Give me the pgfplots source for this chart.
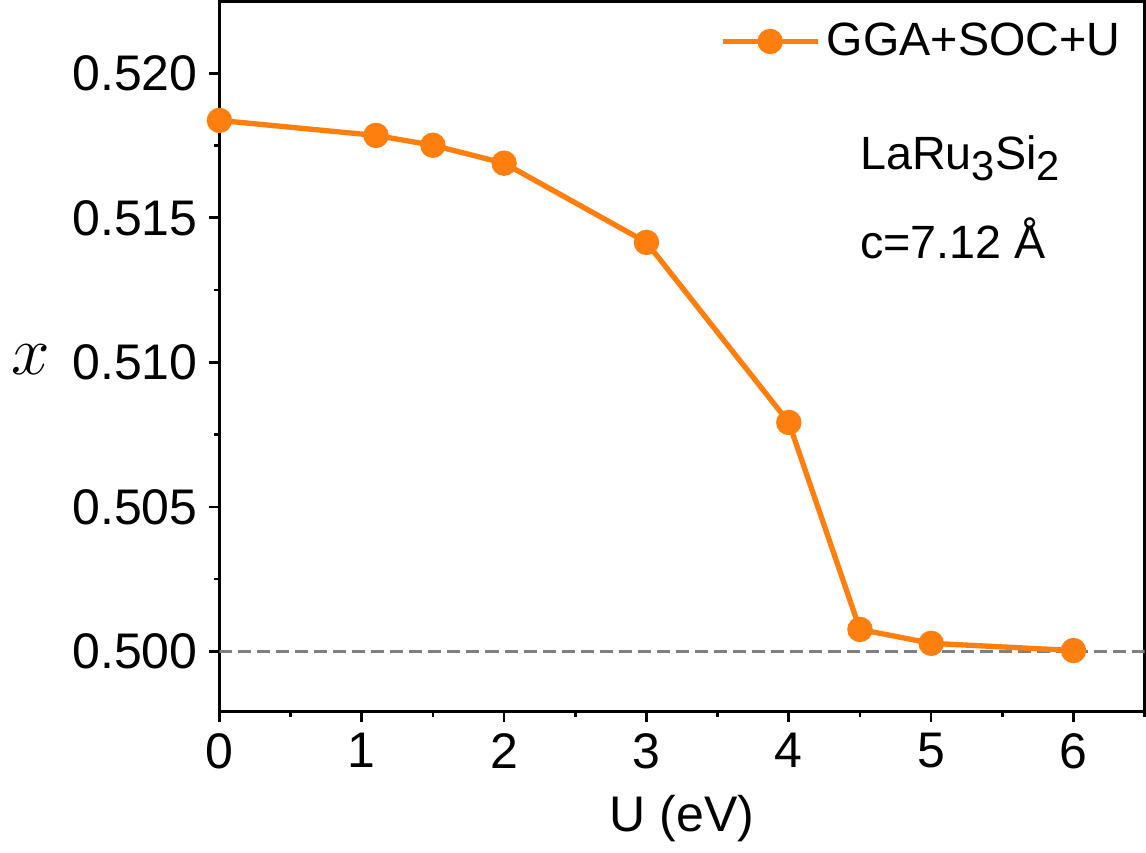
\documentclass[border=0pt]{standalone}
\usepackage{pgfplots}
\pgfplotsset{compat=1.18}
\usepackage{fontspec}
\setmainfont{Liberation Sans}
\definecolor{lineorange}{HTML}{FF7F0E}
\newcommand{\sub}[1]{\raisebox{-0.45ex}{\fontsize{12.5}{14}\selectfont #1}}

\begin{document}
\begin{tikzpicture}
\begin{axis}[
  scale only axis,
  width=277.5pt, height=213pt,
  xmin=0, xmax=6.5,
  ymin=0.49792, ymax=0.52249,
  xtick={0,1,2,3,4,5,6},
  minor xtick={0.5,1.5,2.5,3.5,4.5,5.5,6.5},
  ytick={0.500,0.505,0.510,0.515,0.520},
  minor ytick={0.5025,0.5075,0.5125,0.5175},
  tick align=outside,
  tick pos=left,
  major tick length=3pt,
  minor tick length=1.6pt,
  every tick/.style={black, line width=0.8pt},
  axis line style={line width=0.8pt},
  /pgf/number format/assume math mode=true,
  scaled y ticks=false,
  yticklabel style={/pgf/number format/.cd, fixed, fixed zerofill, precision=3},
  ticklabel style={font=\fontsize{15}{17}\selectfont},
  xlabel={U (eV)},
  ylabel={$x$},
  xlabel style={font=\fontsize{15}{17}\selectfont, yshift=-1pt},
  ylabel style={font=\fontsize{22}{24}\selectfont, rotate=-90, yshift=-1pt},
  legend style={draw=none, fill=none, at={(0.985,0.985)}, anchor=north east,
    font=\fontsize{14}{16}\selectfont, inner sep=1pt},
  legend cell align=left,
  legend image code/.code={\draw[mark repeat=2,mark phase=2] plot coordinates {(0cm,0cm) (0.5cm,0cm) (1.0cm,0cm)};},
]
\addplot[gray, line width=1pt, dash pattern=on 3.9pt off 1.8pt, forget plot]
  coordinates {(0,0.500) (6.5,0.500)};
\addplot[lineorange, line width=1.6pt, mark=*, mark size=3pt,
  mark options={fill=lineorange, draw=lineorange}]
  coordinates {
  (0,0.51837)
  (1.1,0.51785)
  (1.5,0.51751)
  (2,0.51689)
  (3,0.51415)
  (4,0.50792)
  (4.5,0.50076)
  (5,0.50028)
  (6,0.50003)
  };
\addlegendentry{GGA+SOC+U}
\node[anchor=west, font=\fontsize{14}{16}\selectfont] at (axis cs:4.42,0.51706) {LaRu\sub{3}Si\sub{2}};
\node[anchor=west, font=\fontsize{14}{16}\selectfont] at (axis cs:4.42,0.51429) {c=7.12 Å};
\end{axis}
\end{tikzpicture}
\end{document}
